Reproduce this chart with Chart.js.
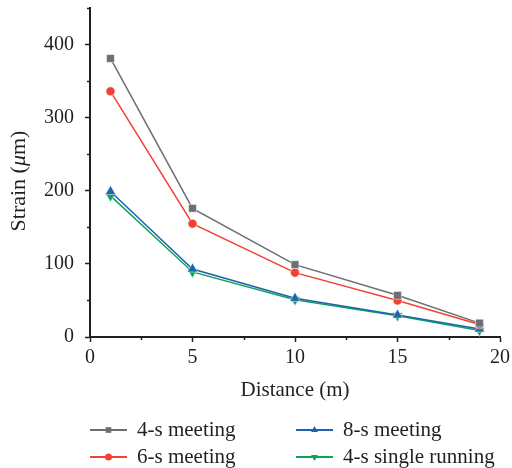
<!DOCTYPE html>
<html>
<head>
<meta charset="utf-8">
<script src="https://cdn.jsdelivr.net/npm/chart.js@4.4.1/dist/chart.umd.min.js"></script>
<style>
  html, body { margin: 0; padding: 0; background: #fff; }
  #wrap { width: 512px; height: 468px; }
</style>
</head>
<body>
<div id="wrap"><canvas id="strainChart" width="512" height="468"></canvas></div>
<script>
// distances along the track (m)
const distances = [1, 5, 10, 15, 19];

// measured strain (µm) per loading case
const meeting4s = [381, 176, 99, 57, 19];
const meeting6s = [336, 155, 88, 50, 17];
const meeting8s = [199, 93, 53, 30, 11];
const single4s = [193, 89, 51, 29, 9];

const seriesNames = ['4-s meeting', '6-s meeting', '8-s meeting', '4-s single running'];

const xTicks = [0, 5, 10, 15, 20];
const xMinor = [2.5, 7.5, 12.5, 17.5];
const yTicks = [0, 100, 200, 300, 400];
const yMinor = [50, 150, 250, 350, 450];

const FONT = '"Liberation Serif", "DejaVu Serif", serif';
const AXIS = '#231f20';

function pts(ys) {
    return distances.map((x, i) => ({ x: x, y: ys[i] }));
}

function series(label, ys, color, style, radius, rotation) {
    return {
        label: label,
        data: pts(ys),
        borderColor: color,
        backgroundColor: color,
        borderWidth: 1.5,
        pointStyle: style,
        pointRotation: rotation || 0,
        pointRadius: radius,
        pointBorderWidth: 0.5,
        pointBorderColor: '#ffffff',
        tension: 0
    };
}

// minor ticks, y title with italic mu, and the two-column legend
const extras = {
    id: 'extras',
    afterDraw(chart) {
        const ctx = chart.ctx;
        const xs = chart.scales.x;
        const ys = chart.scales.y;
        ctx.save();
        ctx.strokeStyle = AXIS;
        ctx.lineWidth = 1.5;
        ctx.beginPath();
        yMinor.forEach(v => {
            const p = Math.round(ys.getPixelForValue(v)) + 0.5;
            ctx.moveTo(xs.left - 3, p);
            ctx.lineTo(xs.left, p);
        });
        xMinor.forEach(v => {
            const p = Math.round(xs.getPixelForValue(v)) + 0.5;
            ctx.moveTo(p, ys.bottom);
            ctx.lineTo(p, ys.bottom + 3);
        });
        ctx.stroke();

        // y axis title
        ctx.fillStyle = AXIS;
        ctx.textBaseline = 'middle';
        ctx.translate(19, 181);
        ctx.rotate(-Math.PI / 2);
        const parts = [['Strain (', ''], ['\u03bc', 'italic '], ['m)', '']];
        let total = 0;
        parts.forEach(p => {
            ctx.font = p[1] + '22px ' + FONT;
            total += ctx.measureText(p[0]).width;
        });
        let cx = -total / 2;
        parts.forEach(p => {
            ctx.font = p[1] + '22px ' + FONT;
            ctx.fillText(p[0], cx, 0);
            cx += ctx.measureText(p[0]).width;
        });
        ctx.setTransform(1, 0, 0, 1, 0, 0);

        // legend
        const cols = [90, 296];
        const rows = [430, 457];
        const order = [[0, 0, 0], [2, 1, 0], [1, 0, 1], [3, 1, 1]];
        order.forEach(o => {
            const ds = chart.data.datasets[o[0]];
            const x0 = cols[o[1]];
            const y0 = rows[o[2]];
            ctx.strokeStyle = ds.borderColor;
            ctx.lineWidth = 2;
            ctx.beginPath();
            ctx.moveTo(x0, y0);
            ctx.lineTo(x0 + 37, y0);
            ctx.stroke();
            ctx.fillStyle = ds.borderColor;
            Chart.helpers.drawPoint(ctx, {
                pointStyle: ds.pointStyle,
                rotation: ds.pointRotation,
                radius: ds.pointStyle === 'circle' ? 3.5 : 4,
                borderWidth: 0
            }, x0 + 18.5, y0);
            ctx.fillStyle = AXIS;
            ctx.font = '21px ' + FONT;
            ctx.textBaseline = 'middle';
            ctx.fillText(ds.label, x0 + 47, y0);
        });
        ctx.restore();
    }
};

const ctx = document.getElementById('strainChart').getContext('2d');
new Chart(ctx, {
    type: 'line',
    data: {
        datasets: [
            series(seriesNames[0], meeting4s, '#6d6e70', 'rect', 5.5),
            series(seriesNames[1], meeting6s, '#ef4136', 'circle', 4.5),
            series(seriesNames[2], meeting8s, '#1c64b0', 'triangle', 6),
            series(seriesNames[3], single4s, '#0ea25a', 'triangle', 6, 180)
        ]
    },
    options: {
        responsive: false,
        animation: false,
        layout: { padding: { left: 0, right: 12, top: 8, bottom: 61 } },
        plugins: {
            legend: { display: false },
            tooltip: { enabled: false }
        },
        scales: {
            x: {
                type: 'linear',
                min: 0,
                max: 20,
                afterBuildTicks: s => { s.ticks = xTicks.map(v => ({ value: v })); },
                afterFit: s => {
                    s.height = 70;
                    s.paddingLeft = 0;
                    s.paddingRight = 0;
                },
                border: { color: AXIS, width: 2 },
                grid: { drawOnChartArea: false, tickLength: 5, tickColor: AXIS, tickWidth: 1.5 },
                ticks: { color: AXIS, font: { family: FONT, size: 20 }, padding: 4, maxRotation: 0 },
                title: { display: true, text: 'Distance (m)', color: AXIS, font: { family: FONT, size: 21 }, padding: { top: 4, bottom: 4 } }
            },
            y: {
                type: 'linear',
                min: 0,
                max: 450,
                afterBuildTicks: s => { s.ticks = yTicks.map(v => ({ value: v })); },
                afterFit: s => {
                    s.width = 90;
                    s.paddingTop = 0;
                    s.paddingBottom = 0;
                },
                border: { color: AXIS, width: 2 },
                grid: { drawOnChartArea: false, tickLength: 5, tickColor: AXIS, tickWidth: 1.5 },
                ticks: { color: AXIS, font: { family: FONT, size: 20 }, padding: 11 }
            }
        }
    },
    plugins: [extras]
});
</script>
</body>
</html>
